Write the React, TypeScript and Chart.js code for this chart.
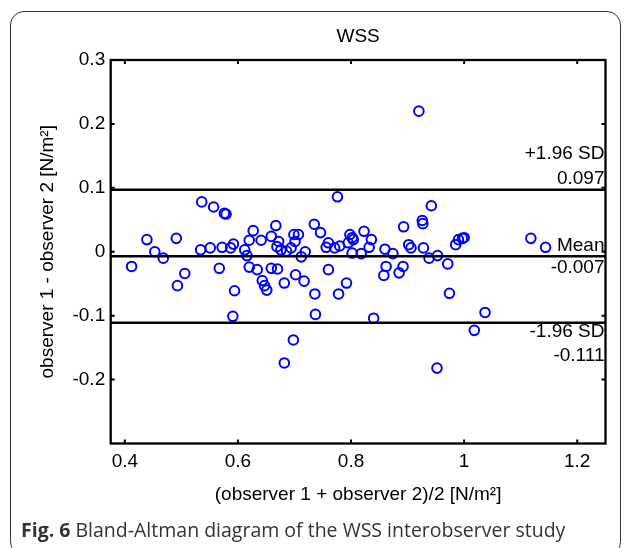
import React, { useEffect, useRef } from "react";
import { Chart, registerables } from "chart.js";

Chart.register(...registerables);

// ---- data ----
const meanValues = [
  0.412, 0.439, 0.453, 0.468, 0.491, 0.493, 0.506, 0.536, 0.557, 0.576,
  0.579, 0.534, 0.551, 0.567, 0.572, 0.587, 0.592, 0.594, 0.591, 0.612,
  0.616, 0.62, 0.627, 0.62, 0.634, 0.641, 0.643, 0.647, 0.651, 0.659,
  0.659, 0.667, 0.669, 0.672, 0.67, 0.676, 0.686, 0.682, 0.682, 0.698,
  0.694, 0.699, 0.707, 0.702, 0.701, 0.712, 0.717, 0.719, 0.736, 0.737,
  0.735, 0.746, 0.76, 0.756, 0.76, 0.771, 0.776, 0.778, 0.78, 0.792,
  0.795, 0.798, 0.802, 0.804, 0.802, 0.818, 0.823, 0.832, 0.836, 0.84,
  0.86, 0.862, 0.858, 0.874, 0.885, 0.892, 0.893, 0.902, 0.906, 0.92,
  0.926, 0.927, 0.928, 0.938, 0.942, 0.952, 0.953, 0.971, 0.974, 0.985,
  0.99, 0.997, 1.0, 1.018, 1.037, 1.118, 1.144,
];
const diffValues = [
  -0.023, 0.019, 0.0, -0.01, 0.021, -0.053, -0.034, 0.078, 0.07, 0.06,
  0.059, 0.003, 0.006, -0.026, 0.007, 0.006, 0.012, -0.061, -0.101, 0.003,
  -0.006, 0.018, 0.033, -0.024, -0.028, 0.018, -0.045, -0.053, -0.06, -0.026,
  0.024, 0.041, 0.008, 0.016, -0.027, 0.003, 0.001, -0.049, -0.174, -0.138,
  0.006, 0.027, 0.027, -0.036, 0.016, -0.008, -0.046, 0.0, -0.066, -0.098,
  0.043, 0.03, -0.028, 0.007, 0.014, 0.006, 0.086, -0.066, 0.009, -0.049,
  0.014, 0.027, 0.022, 0.019, -0.002, -0.003, 0.032, 0.007, 0.019, -0.104,
  0.004, -0.023, -0.037, -0.003, -0.033, -0.023, 0.039, 0.011, 0.006, 0.22,
  0.049, 0.044, 0.006, -0.01, 0.072, -0.182, -0.006, -0.019, -0.065, 0.011,
  0.019, 0.021, 0.022, -0.123, -0.095, 0.021, 0.007,
];
const xTicks = [0.4, 0.6, 0.8, 1.0, 1.2];
const yTicks = [-0.2, -0.1, 0, 0.1, 0.2, 0.3];
const xRange = [0.375, 1.25];
const yRange = [-0.3, 0.3];
const limitValues = [0.097, -0.007, -0.111];
const limitNames = ["+1.96 SD", "Mean", "-1.96 SD"];
const limitTexts = ["0.097", "-0.007", "-0.111"];
const chartTitle = "WSS";
const xTitle = "(observer 1 + observer 2)/2 [N/m²]";
const yTitle = "observer 1 - observer 2 [N/m²]";

const FONT = "'Liberation Sans', Arial, Helvetica, sans-serif";
const FS = 19;

const fmt = (v: number) => String(parseFloat(Number(v).toFixed(3)));

const blandPlugin = {
  id: "blandDecor",
  afterDraw(chart: any) {
    const { ctx, chartArea: a, scales } = chart;
    const xs = scales.x;
    const ys = scales.y;
    ctx.save();
    ctx.strokeStyle = "#000";
    ctx.lineWidth = 2.3;
    ctx.strokeRect(a.left, a.top, a.right - a.left, a.bottom - a.top);
    ctx.lineWidth = 2;
    ctx.beginPath();
    const tl = 4;
    for (const v of xTicks) {
      const px = xs.getPixelForValue(v);
      ctx.moveTo(px, a.top);
      ctx.lineTo(px, a.top + tl);
      ctx.moveTo(px, a.bottom);
      ctx.lineTo(px, a.bottom - tl);
    }
    for (const v of yTicks) {
      const py = ys.getPixelForValue(v);
      ctx.moveTo(a.left, py);
      ctx.lineTo(a.left + tl, py);
      ctx.moveTo(a.right, py);
      ctx.lineTo(a.right - tl, py);
    }
    ctx.stroke();

    ctx.fillStyle = "#000";
    ctx.font = `${FS}px ${FONT}`;
    ctx.textAlign = "center";
    ctx.textBaseline = "middle";
    ctx.fillText(chartTitle, (a.left + a.right) / 2, a.top - 23);

    ctx.textAlign = "right";
    const offsets = [
      [-36, -11],
      [-10, 12],
      [9, 33],
    ];
    limitValues.forEach((v, i) => {
      const py = ys.getPixelForValue(v);
      ctx.fillText(limitNames[i], a.right - 1, py + offsets[i][0]);
      ctx.fillText(limitTexts[i], a.right - 1, py + offsets[i][1]);
    });
    ctx.restore();
  },
};

export default function App() {
  const ref = useRef<HTMLCanvasElement | null>(null);

  useEffect(() => {
    if (!ref.current) return;
    const points = meanValues.map((x, i) => ({ x, y: diffValues[i] }));
    const lineSets = limitValues.map((v) => ({
      type: "line" as const,
      data: [
        { x: xRange[0], y: v },
        { x: xRange[1], y: v },
      ],
      borderColor: "#000",
      borderWidth: 2.5,
      pointRadius: 0,
      fill: false,
    }));
    const chart = new Chart(ref.current, {
      type: "scatter",
      data: {
        datasets: [
          ...lineSets,
          {
            type: "scatter" as const,
            data: points,
            pointStyle: "circle",
            pointRadius: 4.8,
            pointBorderWidth: 2,
            borderWidth: 2,
            borderColor: "#0000ff",
            backgroundColor: "rgba(0,0,0,0)",
          },
        ],
      } as any,
      options: {
        responsive: false,
        animation: false,
        events: [],
        layout: { padding: { left: 0, top: 60, right: 19.5, bottom: 0 } },
        plugins: {
          legend: { display: false },
          tooltip: { enabled: false },
          title: { display: false },
        },
        scales: {
          x: {
            type: "linear",
            min: xRange[0],
            max: xRange[1],
            grid: { display: false, drawTicks: false },
            border: { display: false },
            afterBuildTicks: (s: any) => {
              s.ticks = xTicks.map((value) => ({ value }));
            },
            afterFit: (s: any) => {
              s.height = 104.5;
            },
            ticks: {
              padding: 7,
              color: "#000",
              font: { family: FONT, size: FS },
              maxRotation: 0,
              autoSkip: false,
              callback: (v: any) => fmt(v),
            },
            title: {
              display: true,
              text: xTitle,
              color: "#000",
              font: { family: FONT, size: FS },
              padding: { top: 0, bottom: 41.6 },
            },
          },
          y: {
            type: "linear",
            min: yRange[0],
            max: yRange[1],
            grid: { display: false, drawTicks: false },
            border: { display: false },
            afterBuildTicks: (s: any) => {
              s.ticks = yTicks.map((value) => ({ value }));
            },
            afterFit: (s: any) => {
              s.width = 110.7;
            },
            ticks: {
              padding: 5.5,
              color: "#000",
              font: { family: FONT, size: FS },
              autoSkip: false,
              callback: (v: any) => fmt(v),
            },
            title: {
              display: true,
              text: yTitle,
              color: "#000",
              font: { family: FONT, size: FS },
              padding: { top: 36.6, bottom: 0 },
            },
          },
        },
      } as any,
      plugins: [blandPlugin],
    });
    return () => chart.destroy();
  }, []);

  return (
    <div style={{ position: "absolute", left: 0, top: 0, width: 625, height: 548, overflow: "hidden", background: "#fff" }}>
      <div
        style={{
          position: "absolute",
          left: 10,
          top: 11,
          width: 611,
          height: 545,
          border: "1.5px solid #333",
          borderRadius: 14,
          boxSizing: "border-box",
        }}
      />
      <canvas ref={ref} width={625} height={548} style={{ position: "absolute", left: 0, top: 0, width: 625, height: 548 }} />
      <div
        style={{
          position: "absolute",
          left: 21,
          top: 517,
          fontFamily: "'Open Sans', 'Noto Sans', sans-serif",
          fontSize: 19.5,
          lineHeight: "26px",
          color: "#333",
          whiteSpace: "nowrap",
        }}
      >
        <b>Fig. 6</b> Bland-Altman diagram of the WSS interobserver study
      </div>
    </div>
  );
}
